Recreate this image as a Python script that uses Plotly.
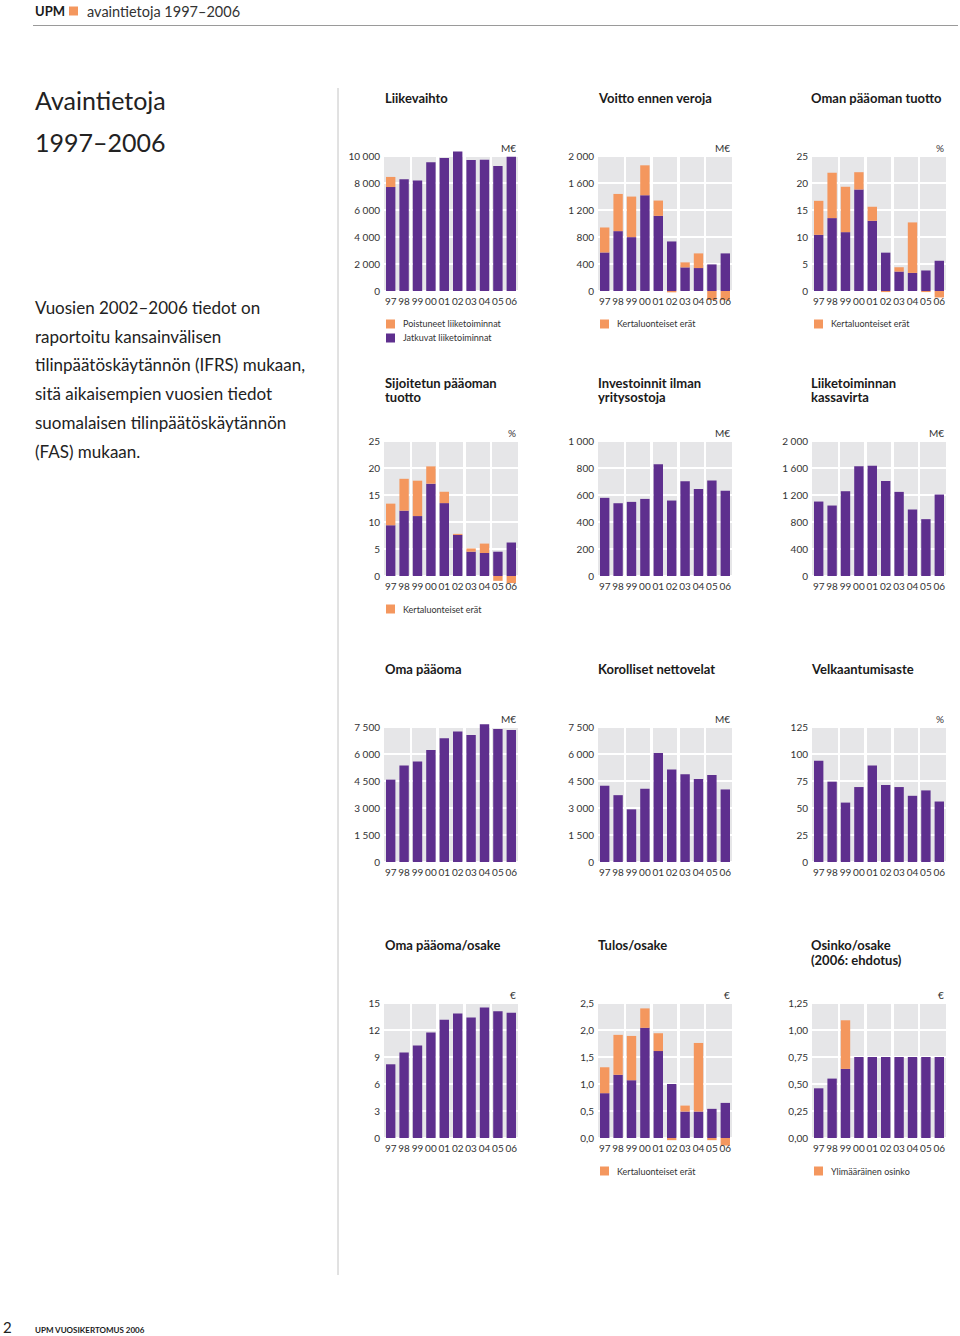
import plotly.graph_objects as go

# ---------------- data ----------------
years = ["97", "98", "99", "00", "01", "02", "03", "04", "05", "06"]

liikevaihto_jatkuvat = [7700, 8280, 8180, 9530, 9850, 10340, 9700, 9730, 9260, 9950]
liikevaihto_poistuneet = [750, 0, 0, 0, 0, 0, 0, 0, 0, 0]

voitto_base = [571, 887, 798, 1419, 1113, 734, 350, 340, 394, 557]
voitto_kerta = [370, 551, 601, 443, 227, -20, 74, 217, -133, -135]

oman_tuotto_base = [10.4, 13.5, 10.9, 18.8, 13.0, 7.1, 3.6, 3.35, 3.8, 5.6]
oman_tuotto_kerta = [6.3, 8.4, 8.4, 3.2, 2.6, -0.2, 0.8, 9.35, -0.2, -1.2]

sijoitetun_base = [9.4, 12.1, 11.1, 17.1, 13.5, 7.6, 4.5, 4.26, 4.5, 6.2]
sijoitetun_kerta = [4.0, 5.9, 6.55, 3.2, 2.1, 0.2, 0.6, 1.74, -0.9, -1.3]

investoinnit = [579, 539, 549, 571, 828, 559, 702, 645, 707, 631]
kassavirta = [1103, 1044, 1256, 1626, 1635, 1409, 1246, 985, 842, 1207]

oma_paaoma = [4575, 5363, 5588, 6225, 6881, 7256, 7050, 7650, 7388, 7331]
nettovelat = [4238, 3713, 2925, 4069, 6056, 5138, 4875, 4613, 4838, 4031]
velkaantumisaste = [93.8, 74.4, 55.0, 69.4, 89.4, 71.3, 69.4, 61.3, 66.3, 56.0]

oma_paaoma_osake = [8.19, 9.50, 10.27, 11.72, 13.14, 13.84, 13.40, 14.51, 14.07, 13.92]
tulos_base = [0.83, 1.17, 1.07, 2.04, 1.61, 1.00, 0.49, 0.49, 0.54, 0.65]
tulos_kerta = [0.48, 0.74, 0.82, 0.36, 0.33, -0.04, 0.11, 1.27, -0.04, -0.14]
osinko = [0.46, 0.55, 0.64, 0.75, 0.75, 0.75, 0.75, 0.75, 0.75, 0.75]
osinko_extra = [0, 0, 0.45, 0, 0, 0, 0, 0, 0, 0]

ticks_10000 = [0, 2000, 4000, 6000, 8000, 10000]
ticktext_10000 = ["0", "2 000", "4 000", "6 000", "8 000", "10 000"]
ticks_2000 = [0, 400, 800, 1200, 1600, 2000]
ticktext_2000 = ["0", "400", "800", "1 200", "1 600", "2 000"]
ticks_25 = [0, 5, 10, 15, 20, 25]
ticktext_25 = ["0", "5", "10", "15", "20", "25"]
ticks_1000 = [0, 200, 400, 600, 800, 1000]
ticktext_1000 = ["0", "200", "400", "600", "800", "1 000"]
ticks_7500 = [0, 1500, 3000, 4500, 6000, 7500]
ticktext_7500 = ["0", "1 500", "3 000", "4 500", "6 000", "7 500"]
ticks_125 = [0, 25, 50, 75, 100, 125]
ticktext_125 = ["0", "25", "50", "75", "100", "125"]
ticks_15 = [0, 3, 6, 9, 12, 15]
ticktext_15 = ["0", "3", "6", "9", "12", "15"]
ticks_25d = [0, 0.5, 1.0, 1.5, 2.0, 2.5]
ticktext_25d = ["0,0", "0,5", "1,0", "1,5", "2,0", "2,5"]
ticks_125d = [0, 0.25, 0.5, 0.75, 1.0, 1.25]
ticktext_125d = ["0,00", "0,25", "0,50", "0,75", "1,00", "1,25"]

# ---------------- style ----------------
PURPLE = "#5e2f8e"
ORANGE = "#f4975e"
PANEL = "#e6e6e8"
TEXT = "#222222"
FONT = "Lato"
W, H = 960, 1336


def fx(px):
    return px / W


def fy(py):
    return 1 - py / H


charts = [
    dict(title=["Liikevaihto"], unit="M€",
         series=[(liikevaihto_jatkuvat, PURPLE, "Jatkuvat liiketoiminnat"),
                 (liikevaihto_poistuneet, ORANGE, "Poistuneet liiketoiminnat")],
         ticks=ticks_10000, ticktext=ticktext_10000,
         legend=[("Poistuneet liiketoiminnat", ORANGE), ("Jatkuvat liiketoiminnat", PURPLE)]),
    dict(title=["Voitto ennen veroja"], unit="M€",
         series=[(voitto_base, PURPLE, "Voitto"), (voitto_kerta, ORANGE, "Kertaluonteiset erät")],
         ticks=ticks_2000, ticktext=ticktext_2000,
         legend=[("Kertaluonteiset erät", ORANGE)]),
    dict(title=["Oman pääoman tuotto"], unit="%",
         series=[(oman_tuotto_base, PURPLE, "Oman pääoman tuotto"), (oman_tuotto_kerta, ORANGE, "Kertaluonteiset erät")],
         ticks=ticks_25, ticktext=ticktext_25,
         legend=[("Kertaluonteiset erät", ORANGE)]),
    dict(title=["Sijoitetun pääoman", "tuotto"], unit="%",
         series=[(sijoitetun_base, PURPLE, "Sijoitetun pääoman tuotto"), (sijoitetun_kerta, ORANGE, "Kertaluonteiset erät")],
         ticks=ticks_25, ticktext=ticktext_25,
         legend=[("Kertaluonteiset erät", ORANGE)]),
    dict(title=["Investoinnit ilman", "yritysostoja"], unit="M€",
         series=[(investoinnit, PURPLE, "Investoinnit")],
         ticks=ticks_1000, ticktext=ticktext_1000, legend=[]),
    dict(title=["Liiketoiminnan", "kassavirta"], unit="M€",
         series=[(kassavirta, PURPLE, "Kassavirta")],
         ticks=ticks_2000, ticktext=ticktext_2000, legend=[]),
    dict(title=["Oma pääoma"], unit="M€",
         series=[(oma_paaoma, PURPLE, "Oma pääoma")],
         ticks=ticks_7500, ticktext=ticktext_7500, legend=[]),
    dict(title=["Korolliset nettovelat"], unit="M€",
         series=[(nettovelat, PURPLE, "Korolliset nettovelat")],
         ticks=ticks_7500, ticktext=ticktext_7500, legend=[]),
    dict(title=["Velkaantumisaste"], unit="%",
         series=[(velkaantumisaste, PURPLE, "Velkaantumisaste")],
         ticks=ticks_125, ticktext=ticktext_125, legend=[]),
    dict(title=["Oma pääoma/osake"], unit="€",
         series=[(oma_paaoma_osake, PURPLE, "Oma pääoma/osake")],
         ticks=ticks_15, ticktext=ticktext_15, legend=[]),
    dict(title=["Tulos/osake"], unit="€",
         series=[(tulos_base, PURPLE, "Tulos/osake"), (tulos_kerta, ORANGE, "Kertaluonteiset erät")],
         ticks=ticks_25d, ticktext=ticktext_25d,
         legend=[("Kertaluonteiset erät", ORANGE)]),
    dict(title=["Osinko/osake", "(2006: ehdotus)"], unit="€",
         series=[(osinko, PURPLE, "Osinko/osake"), (osinko_extra, ORANGE, "Ylimääräinen osinko")],
         ticks=ticks_125d, ticktext=ticktext_125d,
         legend=[("Ylimääräinen osinko", ORANGE)]),
]

col_x = [(384, 518), (598, 732), (812, 946)]
title_x = [383, 596, 809]
row_zero = [291, 576, 862, 1138]
row_title_y = [98, 383, 669, 945]
row_legend_y = [324, 609, None, 1171]
SPAN = 135   # px between 0 and top tick
PAD = 12     # px above top tick
BELOW = 14   # px below zero line (room for negative bars)

fig = go.Figure()
layout = dict(
    width=W, height=H, margin=dict(l=0, r=0, t=0, b=0),
    paper_bgcolor="white", plot_bgcolor="rgba(0,0,0,0)",
    barmode="relative", showlegend=False, hovermode=False,
    font=dict(family=FONT, color=TEXT),
)
shapes = []
annotations = []

for i, ch in enumerate(charts):
    r, c = divmod(i, 3)
    n = "" if i == 0 else str(i + 1)
    xa, ya = "x" + n, "y" + n
    for vals, color, name in ch["series"]:
        fig.add_trace(go.Bar(
            x=list(range(len(years))), y=vals, name=name,
            marker=dict(color=color, line=dict(width=0)),
            width=0.7, xaxis=xa, yaxis=ya, cliponaxis=False,
        ))
    top = ch["ticks"][-1]
    z = row_zero[r]
    x0p, x1p = col_x[c]
    layout["xaxis" + n] = dict(
        domain=[fx(x0p), fx(x1p)], anchor="free", position=fy(z), range=[-0.5, 9.5],
        tickmode="array", tickvals=list(range(len(years))), ticktext=years,
        tickangle=0, ticklabelstandoff=3,
        showgrid=False, zeroline=False, showline=False, ticks="",
        tickfont=dict(family=FONT, size=10, color="#333333"),
        minor=dict(tickmode="array", tickvals=[1.5, 3.5, 5.5, 7.5],
                   showgrid=True, gridcolor="white", gridwidth=2.5, ticks=""),
        fixedrange=True,
    )
    layout["yaxis" + n] = dict(
        domain=[fy(z + BELOW), fy(z - SPAN - PAD)], anchor=xa,
        range=[-top * BELOW / SPAN, top * (SPAN + PAD) / SPAN],
        tickmode="array", tickvals=ch["ticks"], ticktext=ch["ticktext"],
        showgrid=True, gridcolor="white", gridwidth=2, zeroline=False,
        showline=False, ticks="", ticklabelstandoff=3,
        tickfont=dict(family=FONT, size=10, color="#333333"),
        fixedrange=True,
    )
    # grey panel behind the bars (0 .. top tick)
    shapes.append(dict(type="rect", xref=xa, yref=ya, x0=-0.5, x1=9.5, y0=0, y1=top,
                       fillcolor=PANEL, line=dict(width=0), layer="below"))
    # titles
    for k, line in enumerate(ch["title"]):
        annotations.append(dict(text="<b>" + line + "</b>", x=fx(title_x[c]), y=fy(row_title_y[r] + 14.5 * k),
                                xref="paper", yref="paper", xanchor="left", yanchor="middle",
                                showarrow=False, font=dict(family=FONT, size=13, color="#1a1a1a")))
    # unit
    annotations.append(dict(text=ch["unit"], x=fx(x1p), y=fy(z - SPAN - 8),
                            xref="paper", yref="paper", xanchor="right", yanchor="middle",
                            showarrow=False, font=dict(family=FONT, size=10, color="#333333")))
    # legend
    for k, (lab, color) in enumerate(ch["legend"]):
        ly = row_legend_y[r] + 14 * k
        shapes.append(dict(type="rect", xref="paper", yref="paper",
                           x0=fx(x0p + 2), x1=fx(x0p + 11), y0=fy(ly + 4.5), y1=fy(ly - 4.5),
                           fillcolor=color, line=dict(width=0)))
        annotations.append(dict(text=lab, x=fx(x0p + 17), y=fy(ly), xref="paper", yref="paper",
                                xanchor="left", yanchor="middle", showarrow=False,
                                font=dict(family=FONT, size=9, color="#333333")))

# page furniture
annotations += [
    dict(text="<b>UPM</b>", x=fx(33), y=fy(11), xref="paper", yref="paper", xanchor="left",
         yanchor="middle", showarrow=False, font=dict(family=FONT, size=13, color="#1a1a1a")),
    dict(text="avaintietoja 1997–2006", x=fx(85), y=fy(11), xref="paper", yref="paper",
         xanchor="left", yanchor="middle", showarrow=False,
         font=dict(family=FONT, size=14.5, color="#333333")),
    dict(text="Avaintietoja", x=fx(33), y=fy(100), xref="paper", yref="paper", xanchor="left",
         yanchor="middle", showarrow=False, font=dict(family=FONT, size=25, color=TEXT)),
    dict(text="1997–2006", x=fx(33), y=fy(142), xref="paper", yref="paper", xanchor="left",
         yanchor="middle", showarrow=False, font=dict(family=FONT, size=25, color=TEXT)),
    dict(text="2", x=fx(1), y=fy(1327), xref="paper", yref="paper", xanchor="left",
         yanchor="middle", showarrow=False, font=dict(family=FONT, size=15, color=TEXT)),
    dict(text="<b>UPM VUOSIKERTOMUS 2006</b>", x=fx(33), y=fy(1330), xref="paper", yref="paper",
         xanchor="left", yanchor="middle", showarrow=False,
         font=dict(family=FONT, size=8, color="#1a1a1a")),
]
para = ["Vuosien 2002–2006 tiedot on", "raportoitu kansainvälisen",
        "tilinpäätöskäytännön (IFRS) mukaan,", "sitä aikaisempien vuosien tiedot",
        "suomalaisen tilinpäätöskäytännön", "(FAS) mukaan."]
for k, line in enumerate(para):
    annotations.append(dict(text=line, x=fx(33), y=fy(307 + 29 * k), xref="paper", yref="paper",
                            xanchor="left", yanchor="middle", showarrow=False,
                            font=dict(family=FONT, size=17, color=TEXT)))

shapes += [
    dict(type="rect", xref="paper", yref="paper", x0=fx(69), x1=fx(78), y0=fy(15.5), y1=fy(6.5),
         fillcolor=ORANGE, line=dict(width=0)),
    dict(type="line", xref="paper", yref="paper", x0=fx(33), x1=fx(958), y0=fy(25.5), y1=fy(25.5),
         line=dict(color="#9a9a9a", width=1)),
    dict(type="line", xref="paper", yref="paper", x0=fx(338), x1=fx(338), y0=fy(88), y1=fy(1275),
         line=dict(color="#c4c4c4", width=1)),
]

layout["shapes"] = shapes
layout["annotations"] = annotations
fig.update_layout(**layout)
fig.write_html("out.html", config={"displayModeBar": False, "staticPlot": True},
               post_script="document.body.style.margin='0px';document.body.style.overflow='hidden';")
